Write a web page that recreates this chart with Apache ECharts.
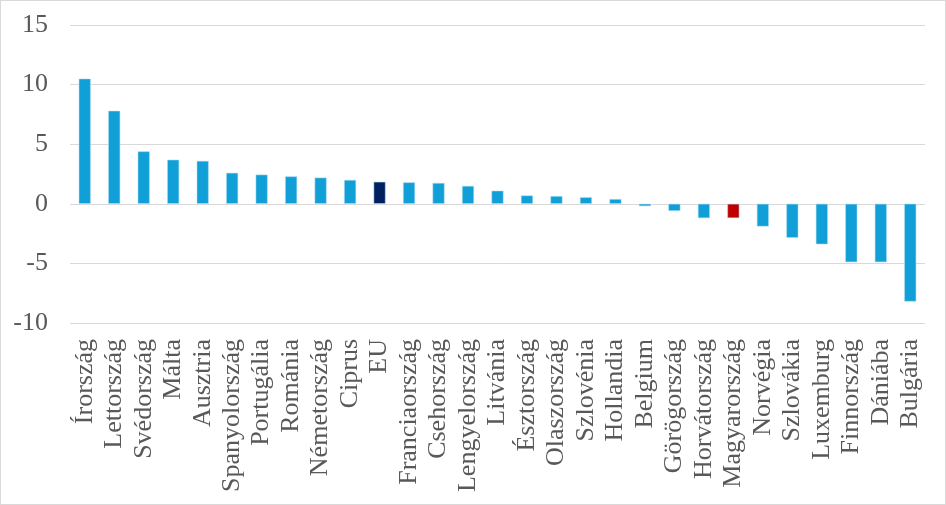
<!DOCTYPE html>
<html>
<head>
<meta charset="utf-8">
<script src="https://cdn.jsdelivr.net/npm/echarts@6/dist/echarts.min.js"></script>
<style>
html,body{margin:0;padding:0;background:#fff;}
#c{width:946px;height:505px;box-sizing:border-box;border:1px solid #d9d9d9;}
</style>
</head>
<body>
<div id="c"></div>
<script>
const categories = ["Írország","Lettország","Svédország","Málta","Ausztria","Spanyolország","Portugália","Románia","Németország","Ciprus","EU","Franciaország","Csehország","Lengyelország","Litvánia","Észtország","Olaszország","Szlovénia","Hollandia","Belgium","Görögország","Horvátország","Magyarország","Norvégia","Szlovákia","Luxemburg","Finnország","Dániába","Bulgária"];
const values = [10.5,7.8,4.4,3.7,3.6,2.6,2.45,2.3,2.2,2.0,1.85,1.8,1.75,1.5,1.1,0.7,0.65,0.55,0.4,-0.2,-0.6,-1.2,-1.2,-1.9,-2.85,-3.4,-4.9,-4.9,-8.2];
const highlight = {"EU":"#002060","Magyarország":"#C00000"};
const baseColor = "#109FD6";
const yTicks = {min:-10, max:15, interval:5};

const chart = echarts.init(document.getElementById('c'), null, {renderer:'canvas'});
chart.setOption({
  animation:false,
  grid:{left:69, right:20, top:24, bottom:181, containLabel:false},
  xAxis:{
    type:'category',
    data:categories,
    axisLine:{show:false, onZero:false},
    axisTick:{show:false},
    axisLabel:{
      interval:0, rotate:90, margin:16,
      fontFamily:'"Liberation Serif","Times New Roman",serif',
      fontSize:26, color:'#595959'
    }
  },
  yAxis:{
    type:'value',
    min:yTicks.min, max:yTicks.max, interval:yTicks.interval,
    axisLine:{show:false},
    axisTick:{show:false},
    splitLine:{lineStyle:{color:'#d9d9d9', width:1}},
    axisLabel:{
      margin:22,
      fontFamily:'"Liberation Serif","Times New Roman",serif',
      fontSize:26, color:'#595959'
    }
  },
  series:[{
    type:'bar',
    data:values.map((v,i)=>({value:v, itemStyle:{color: highlight[categories[i]] || baseColor}})),
    barWidth:12,
    itemStyle:{borderColor:'rgba(170,220,245,0.9)', borderWidth:0.6}
  }]
});
</script>
</body>
</html>
